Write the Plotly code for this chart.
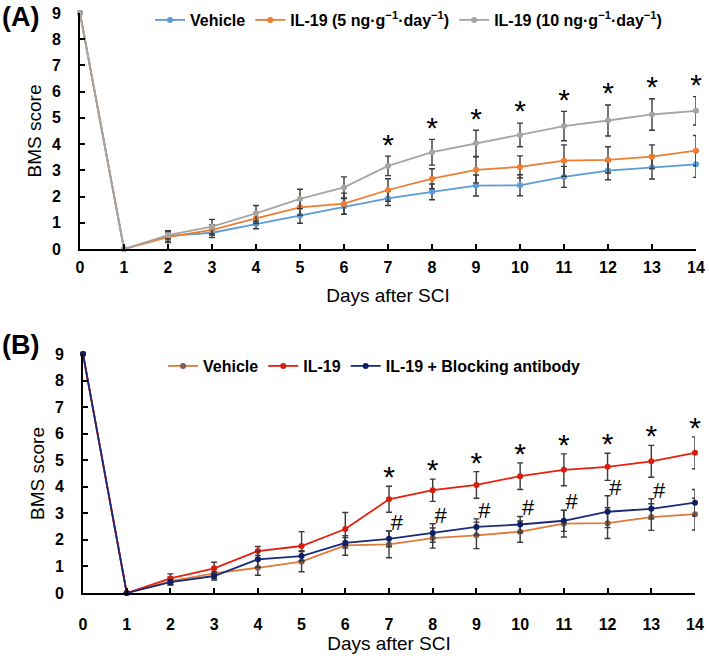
import plotly.graph_objects as go

days = list(range(15))

# Panel A
a_vehicle = [9, 0, 0.50, 0.62, 0.95, 1.28, 1.62, 1.93, 2.18, 2.42, 2.43, 2.75, 2.99, 3.12, 3.23]
a_vehicle_err = [0, 0, 0.2, 0.18, 0.18, 0.3, 0.3, 0.27, 0.3, 0.4, 0.4, 0.4, 0.35, 0.45, 0.5]
a_il19_5 = [9, 0, 0.45, 0.73, 1.17, 1.59, 1.73, 2.25, 2.68, 3.02, 3.13, 3.37, 3.40, 3.52, 3.75]
a_il19_5_err = [0, 0, 0.2, 0.2, 0.2, 0.3, 0.4, 0.43, 0.38, 0.5, 0.42, 0.6, 0.5, 0.45, 0.58]
a_il19_10 = [9, 0, 0.53, 0.85, 1.36, 1.91, 2.35, 3.17, 3.69, 4.03, 4.35, 4.69, 4.90, 5.13, 5.27]
a_il19_10_err = [0, 0, 0.15, 0.28, 0.3, 0.37, 0.4, 0.37, 0.49, 0.5, 0.45, 0.56, 0.59, 0.6, 0.54]
a_star_days = [7, 8, 9, 10, 11, 12, 13, 14]

# Panel B
b_vehicle = [9, 0, 0.45, 0.74, 0.95, 1.18, 1.79, 1.83, 2.07, 2.17, 2.31, 2.61, 2.63, 2.86, 2.97]
b_vehicle_err = [0, 0, 0.15, 0.2, 0.28, 0.38, 0.37, 0.5, 0.38, 0.5, 0.4, 0.5, 0.58, 0.5, 0.6]
b_il19 = [9, 0, 0.55, 0.93, 1.58, 1.77, 2.41, 3.53, 3.87, 4.07, 4.40, 4.64, 4.75, 4.96, 5.28]
b_il19_err = [0, 0, 0.17, 0.23, 0.17, 0.54, 0.62, 0.49, 0.42, 0.5, 0.5, 0.6, 0.51, 0.6, 0.6]
b_block = [9, 0, 0.41, 0.64, 1.27, 1.39, 1.89, 2.04, 2.26, 2.49, 2.58, 2.72, 3.06, 3.17, 3.40]
b_block_err = [0, 0, 0.1, 0.15, 0.3, 0.2, 0.2, 0.3, 0.35, 0.3, 0.3, 0.4, 0.6, 0.38, 0.5]
b_star_days = [7, 8, 9, 10, 11, 12, 13, 14]
b_hash_days = [7, 8, 9, 10, 11, 12, 13, 14]

ERR_COLOR = "#3a3a3a"
FONT = "Liberation Sans, Arial, sans-serif"

def series(x, y, err, name, line_color, marker_color, xa, ya, legend):
    return go.Scatter(
        x=x, y=y, name=name, mode="lines+markers",
        line=dict(color=line_color, width=1.8),
        marker=dict(color=marker_color, size=6),
        error_y=dict(type="data", array=err, color=ERR_COLOR, thickness=1.4, width=3),
        xaxis=xa, yaxis=ya, legend=legend, cliponaxis=False,
    )

fig = go.Figure()
fig.add_trace(series(days, a_vehicle, a_vehicle_err, "Vehicle", "#5B9BD5", "#5B9BD5", "x", "y", "legend"))
fig.add_trace(series(days, a_il19_5, a_il19_5_err, "IL-19 (5 ng·g<sup>−1</sup>·day<sup>−1</sup>)", "#ED7D31", "#ED7D31", "x", "y", "legend"))
fig.add_trace(series(days, a_il19_10, a_il19_10_err, "IL-19 (10 ng·g<sup>−1</sup>·day<sup>−1</sup>)", "#A5A5A5", "#A5A5A5", "x", "y", "legend"))

fig.add_trace(series(days, b_vehicle, b_vehicle_err, "Vehicle", "#E07A3A", "#7E5E52", "x2", "y2", "legend2"))
fig.add_trace(series(days, b_il19, b_il19_err, "IL-19", "#E4210F", "#D41E0E", "x2", "y2", "legend2"))
fig.add_trace(series(days, b_block, b_block_err, "IL-19 + Blocking antibody", "#1B2A78", "#0E1F66", "x2", "y2", "legend2"))

# significance marks
a_star_y = [a_il19_10[d] + a_il19_10_err[d] + 0.35 for d in a_star_days]
fig.add_trace(go.Scatter(x=a_star_days, y=a_star_y, mode="text", text=["*"] * len(a_star_days),
                         textfont=dict(size=30, color="black", family=FONT), textposition="middle center",
                         showlegend=False, xaxis="x", yaxis="y", cliponaxis=False, hoverinfo="skip"))
b_star_y = [b_il19[d] + b_il19_err[d] + 0.25 for d in b_star_days]
fig.add_trace(go.Scatter(x=b_star_days, y=b_star_y, mode="text", text=["*"] * len(b_star_days),
                         textfont=dict(size=30, color="black", family=FONT), textposition="middle center",
                         showlegend=False, xaxis="x2", yaxis="y2", cliponaxis=False, hoverinfo="skip"))
b_hash_x = [d + 0.18 for d in b_hash_days]
b_hash_y = [b_block[d] + b_block_err[d] + 0.25 for d in b_hash_days]
fig.add_trace(go.Scatter(x=b_hash_x, y=b_hash_y, mode="text", text=["#"] * len(b_hash_days),
                         textfont=dict(size=22, color="black", family=FONT), textposition="middle center",
                         showlegend=False, xaxis="x2", yaxis="y2", cliponaxis=False, hoverinfo="skip"))

W, H = 709, 665
def px_x(a, b):
    return [a / W, b / W]
def px_y(top, bottom):
    return [1 - bottom / H, 1 - top / H]

axis_common = dict(showline=True, linecolor="black", linewidth=2, ticks="inside", ticklen=5,
                   tickwidth=1.5, tickcolor="black", showgrid=False, zeroline=False, automargin=False,
                   tickfont=dict(family=FONT, size=16, color="black", weight="bold"))
title_font = dict(family=FONT, size=19, color="black")

fig.update_layout(
    width=W, height=H, margin=dict(l=0, r=0, t=0, b=0),
    paper_bgcolor="white", plot_bgcolor="white", showlegend=True,
    xaxis=dict(axis_common, domain=px_x(80, 696), range=[0, 14], tickvals=days, anchor="y",
               ticklabelstandoff=3,
               title=dict(text="Days after SCI", font=title_font, standoff=13)),
    yaxis=dict(axis_common, domain=px_y(13, 249), range=[0, 9], tickvals=list(range(10)), anchor="x",
               ticklabelstandoff=14,
               title=dict(text="BMS score", font=title_font, standoff=5)),
    xaxis2=dict(axis_common, domain=px_x(83, 695), range=[0, 14], tickvals=days, anchor="y2",
                ticklabelstandoff=16,
                title=dict(text="Days after SCI", font=title_font, standoff=2)),
    yaxis2=dict(axis_common, domain=px_y(354, 593), range=[0, 9], tickvals=list(range(10)), anchor="x2",
                ticklabelstandoff=14,
                title=dict(text="BMS score", font=title_font, standoff=5)),
    legend=dict(orientation="h", x=150 / W, xanchor="left", y=1 - 20 / H, yanchor="middle",
                font=dict(family=FONT, size=16, color="black", weight="bold"),
                bgcolor="rgba(0,0,0,0)", itemwidth=30),
    legend2=dict(orientation="h", x=163 / W, xanchor="left", y=1 - 366 / H, yanchor="middle",
                 font=dict(family=FONT, size=16, color="black", weight="bold"),
                 bgcolor="rgba(0,0,0,0)", itemwidth=30),
    annotations=[
        dict(text="<b>(A)</b>", x=0, y=1 - 0 / H, xref="paper", yref="paper", xanchor="left", yanchor="top",
             showarrow=False, font=dict(family=FONT, size=27, color="black")),
        dict(text="<b>(B)</b>", x=0, y=1 - 328 / H, xref="paper", yref="paper", xanchor="left", yanchor="top",
             showarrow=False, font=dict(family=FONT, size=27, color="black")),
    ],
)

fig.write_html("out.html", config={"displayModeBar": False},
               post_script="document.body.style.margin='0';")
